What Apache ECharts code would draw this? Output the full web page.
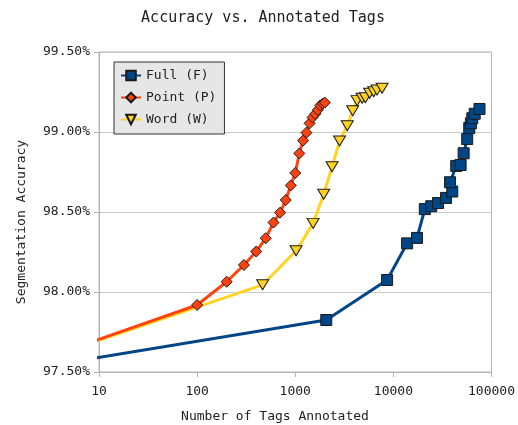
<!DOCTYPE html>
<html>
<head>
<meta charset="utf-8">
<script src="https://cdn.jsdelivr.net/npm/echarts@6/dist/echarts.min.js"></script>
<style>
html,body{margin:0;padding:0;background:#fff;}
#chart{width:518px;height:425px;}
</style>
</head>
<body>
<div id="chart"></div>
<script>
// ---- Data ----
var seriesNames = ['Full (F)', 'Point (P)', 'Word (W)'];

// Full (F): tags annotated / accuracy (%)
var fullX = [1, 2070, 8630, 13800, 17400, 20900, 24300, 28500, 34400, 39800, 37800, 43700, 48400, 52000, 56500, 59300, 61600, 63700, 67400, 75400];
var fullY = [97.49, 97.825, 98.075, 98.304, 98.338, 98.518, 98.536, 98.556, 98.588, 98.628, 98.686, 98.788, 98.794, 98.867, 98.956, 99.025, 99.054, 99.086, 99.114, 99.144];

// Point (P)
var pointX = [1, 100, 200, 300, 400, 500, 600, 700, 800, 900, 1000, 1100, 1200, 1300, 1400, 1500, 1600, 1700, 1800, 1900, 2000];
var pointY = [97.49, 97.919, 98.064, 98.169, 98.253, 98.336, 98.434, 98.496, 98.575, 98.666, 98.744, 98.866, 98.946, 98.996, 99.054, 99.091, 99.113, 99.138, 99.166, 99.177, 99.184];

// Word (W)
var wordX = [1, 465, 1020, 1520, 1950, 2370, 2830, 3390, 3850, 4270, 4800, 5180, 5730, 6300, 6820, 7670];
var wordY = [97.49, 98.045, 98.258, 98.429, 98.611, 98.783, 98.944, 99.039, 99.133, 99.196, 99.211, 99.214, 99.242, 99.252, 99.262, 99.273];

var xTickLabels = ['10', '100', '1000', '10000', '100000'];
var yMin = 97.5, yMax = 99.5, yStep = 0.5;

var titleText = 'Accuracy vs. Annotated Tags';
var xTitle = 'Number of Tags Annotated';
var yTitle = 'Segmentation Accuracy';

var colors = ['#004586', '#ff420e', '#ffd320'];
var MONO = '"DejaVu Sans Mono", "Liberation Mono", monospace';

function zip(xs, ys) { return xs.map(function (x, i) { return [x, ys[i]]; }); }

var chart = echarts.init(document.getElementById('chart'), null, { renderer: 'canvas' });

function mkSeries(name, data, color, symbol, size, rotate, z) {
  return {
    name: name,
    type: 'line',
    data: data,
    clip: true,
    z: z,
    symbol: symbol,
    symbolSize: size,
    symbolRotate: rotate,
    showAllSymbol: true,
    lineStyle: { color: color, width: 3 },
    itemStyle: { color: color, borderColor: '#1a1a1a', borderWidth: 1 },
    emphasis: { disabled: true },
    animation: false
  };
}

var option = {
  animation: false,
  graphic: [
    { type: 'text', left: null, x: 263, y: 18, style: { text: titleText, font: '15px ' + MONO, fill: '#222', textAlign: 'center', textVerticalAlign: 'middle' } },
    { type: 'text', x: 275, y: 417, style: { text: xTitle, font: '13px ' + MONO, fill: '#222', textAlign: 'center', textVerticalAlign: 'middle' } },
    { type: 'text', x: 22, y: 222, rotation: Math.PI / 2, style: { text: yTitle, font: '13px ' + MONO, fill: '#222', textAlign: 'center', textVerticalAlign: 'middle' } }
  ],
  grid: { left: 99, right: 26, top: 52, bottom: 53, show: true, borderColor: '#b3b3b3', borderWidth: 1, backgroundColor: 'transparent' },
  legend: {
    data: seriesNames,
    orient: 'vertical',
    left: 114,
    top: 62,
    padding: [7, 8, 8, 6],
    itemWidth: 20,
    itemHeight: 12,
    itemGap: 9,
    backgroundColor: '#e6e6e6',
    borderColor: '#333',
    borderWidth: 1,
    borderRadius: 0,
    textStyle: { fontFamily: MONO, fontSize: 13, color: '#222' },
    selectedMode: false
  },
  xAxis: {
    type: 'log',
    logBase: 10,
    min: 10,
    max: 100000,
    axisLine: { show: true, lineStyle: { color: '#b3b3b3', width: 1 } },
    axisTick: { show: true, inside: false, length: 5, lineStyle: { color: '#b3b3b3' } },
    minorTick: { show: false },
    splitLine: { show: false },
    axisLabel: {
      margin: 13,
      fontFamily: MONO, fontSize: 13, color: '#222',
      formatter: function (v) {
        var idx = Math.round(Math.log10(v)) - 1;
        return xTickLabels[idx] !== undefined ? xTickLabels[idx] : String(v);
      }
    }
  },
  yAxis: {
    type: 'value',
    min: yMin,
    max: yMax,
    interval: yStep,
    axisLine: { show: true, lineStyle: { color: '#b3b3b3', width: 1 } },
    axisTick: { show: true, inside: false, length: 5, lineStyle: { color: '#b3b3b3' } },
    splitLine: { show: true, lineStyle: { color: '#c8c8c8', width: 1 } },
    axisLabel: {
      margin: 9,
      fontFamily: MONO, fontSize: 13, color: '#222',
      formatter: function (v) { return v.toFixed(2) + '%'; }
    }
  },
  series: [
    mkSeries(seriesNames[0], zip(fullX, fullY), colors[0], 'rect', 11, 0, 2),
    mkSeries(seriesNames[1], zip(pointX, pointY), colors[1], 'diamond', 11, 0, 4),
    mkSeries(seriesNames[2], zip(wordX, wordY), colors[2], 'triangle', [12, 10], 180, 3)
  ]
};
chart.setOption(option);
</script>
</body>
</html>
